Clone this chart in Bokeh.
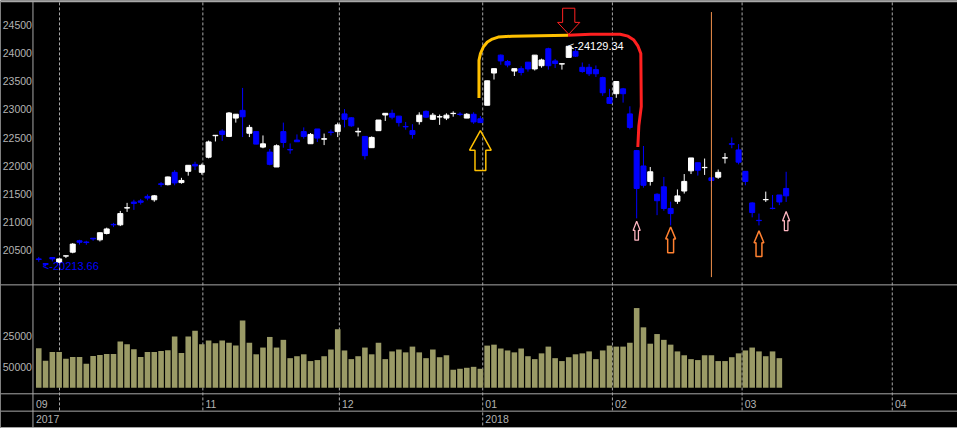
from bokeh.plotting import figure
from bokeh.models import Range1d, LinearAxis, FixedTicker, Span, ColumnDataSource
from bokeh.core.properties import value
from bokeh.embed import file_html
from bokeh.resources import INLINE

# ---------------- data ----------------
open_ = [20345, 20262, 20370, 20285, 20395, 20465, 20667, 20645, 20712, 20684,
         20797, 20958, 20950, 21248, 21355, 21375, 21455, 21395, 21678, 21663,
         21882, 21700, 21900, 22024, 21882, 22150, 22532, 22615, 22520, 22845,
         22982, 22576, 22605, 22330, 22241, 21977, 22605, 22288, 22455, 22605,
         22390, 22652, 22470, 22598, 22605, 22920, 22850, 22600, 22520, 22320,
         22622, 22900, 22930, 22880, 22697, 22623, 22782, 22965, 22823, 22865,
         22845, 22925, 22915, 22845, 22913, 22833, 23073, 23645, 23963, 23850,
         23680, 23723, 23838, 23718, 23775, 24077, 23860, 23805, 23923, 24030,
         23747, 23747, 23706, 23564, 23210, 23278, 23364, 22920, 22268, 21995,
         21720, 21493, 21625, 21241, 21368, 21550, 21909, 22053, 21965, 21784,
         21796, 22136, 22390, 22280, 21900, 21339, 21030, 21395, 21245, 21480,
         21596]
high = [20380, 20270, 20372, 20350, 20400, 20625, 20684, 20667, 20715, 20815,
        20900, 20985, 21197, 21340, 21395, 21410, 21490, 21480, 21710, 21806,
        21920, 21785, 22007, 22070, 22036, 22446, 22540, 22645, 22953, 22914,
        23381, 22725, 22610, 22537, 22297, 22378, 22765, 22395, 22555, 22680,
        22580, 22652, 22570, 22640, 22765, 23005, 22862, 22675, 22520, 22520,
        22811, 22932, 22995, 22880, 22777, 22737, 22948, 22980, 22936, 22908,
        22930, 22965, 22950, 22935, 22948, 22880, 23510, 23723, 23975, 23877,
        23723, 23765, 23840, 23963, 23900, 24095, 23895, 23812, 24129.34, 24077,
        23832, 23808, 23780, 23580, 23364, 23495, 23381, 23055, 22280, 22350,
        21977, 21510, 21800, 21361, 21578, 21852, 22138, 22053, 22127, 21784,
        21932, 22224, 22500, 22383, 21900, 21350, 21150, 21540, 21480, 21480,
        21892]
low = [20295, 20213.66, 20300, 20280, 20360, 20445, 20600, 20595, 20667, 20655,
       20780, 20910, 20928, 21180, 21215, 21310, 21385, 21360, 21625, 21650,
       21652, 21680, 21823, 21922, 21841, 22130, 22430, 22440, 22508, 22765,
       22508, 22508, 22380, 22310, 22007, 21977, 22320, 22212, 22425, 22480,
       22390, 22420, 22366, 22537, 22508, 22680, 22690, 22520, 22110, 22320,
       22622, 22794, 22823, 22696, 22640, 22480, 22730, 22850, 22811, 22725,
       22810, 22870, 22880, 22845, 22743, 22765, 23073, 23530, 23792, 23747,
       23593, 23603, 23670, 23690, 23740, 23706, 23735, 23706, 23923, 23930,
       23650, 23593, 23575, 23240, 23097, 23205, 23120, 22645, 21065, 21610,
       21647, 21122, 21200, 20940, 21322, 21505, 21852, 21824, 21836, 21624,
       21767, 22040, 22310, 22024, 21652, 21083, 20940, 21357, 21225, 21300,
       21356]
close = [20335, 20248, 20345, 20345, 20400, 20608, 20640, 20635, 20700, 20810,
         20877, 20950, 21150, 21255, 21330, 21350, 21425, 21465, 21668, 21800,
         21694, 21738, 22007, 21995, 22007, 22422, 22540, 22555, 22936, 22914,
         22868, 22680, 22383, 22388, 22024, 22354, 22412, 22280, 22425, 22520,
         22555, 22490, 22480, 22590, 22725, 22823, 22708, 22610, 22178, 22502,
         22811, 22930, 22862, 22765, 22690, 22555, 22897, 22862, 22897, 22870,
         22897, 22930, 22910, 22913, 22777, 22765, 23507, 23723, 23860, 23787,
         23723, 23655, 23718, 23963, 23877, 23775, 23815, 23810, 24120, 23945,
         23672, 23632, 23632, 23295, 23107, 23495, 23278, 22680, 21596, 21652,
         21892, 21378, 21240, 21150, 21464, 21721, 22138, 21920, 21970, 21738,
         21882, 22141, 22380, 22063, 21721, 21168, 21025, 21400, 21240, 21356,
         21465]
volume = [95300, 65100, 86000, 86000, 69800, 74400, 74400, 58100, 76700, 79100,
          81400, 81400, 111600, 104600, 93000, 74400, 86000, 86000, 88400, 90700,
          123300, 83700, 123300, 137200, 104600, 114000, 107000, 114000, 108500, 101600,
          162000, 108500, 80600, 96900, 122500, 96900, 115500, 71300, 76000, 80600,
          64300, 66700, 76000, 92200, 141100, 89900, 69000, 76000, 96900, 80600,
          108500, 69000, 87600, 92200, 85300, 99200, 85300, 71300, 92200, 73600,
          78300, 43400, 45700, 48100, 50400, 45700, 101600, 103900, 94600, 89900,
          85300, 94600, 76000, 69000, 82900, 99200, 71300, 64300, 73600, 80600,
          82900, 87600, 69000, 89900, 101600, 99200, 99200, 108500, 192200, 145700,
          106200, 129500, 115500, 103900, 87600, 78300, 69000, 66700, 78300, 78300,
          64300, 64300, 73600, 82900, 89900, 96900, 87600, 76000, 87600, 71300]

price_ticks = [20500, 21000, 21500, 22000, 22500, 23000, 23500, 24000, 24500]
volume_ticks = [50000, 125000]
volume_tick_labels = {50000: "50000", 125000: "25000"}

# first trading-day index of each month (Oct .. Apr) and its label
month_start = [4, 25, 45, 66, 85, 104, 126]
month_label = ["", "11", "12", "01", "02", "03", "04"]
first_month_label = "09"
year_start = [66]
year_label = ["2018"]
first_year_label = "2017"

# marked points
high_idx, high_val = 78, 24129.34
low_idx, low_val = 1, 20213.66
small_up_idx = [88, 110]
small_up_tip = [21014, 21185]
mid_up_idx = [93, 106]
mid_up_tip = [20911, 20843]
big_up_idx, big_up_tip = 65, 22623
down_idx, down_tip = 78, 24334
vline_idx, vline_top, vline_bottom = 99, 24728, 20022
gold_arc_x = [64.79, 64.79, 65.01, 65.45, 66.03, 66.75, 67.62, 69.65, 77.90]
gold_arc_p = [23204, 23872, 23992, 24112, 24197, 24248, 24283, 24300, 24317]
red_arc_x = [77.90, 81.23, 85.57, 86.73, 87.59, 88.17, 88.61, 88.68, 88.32, 88.17]
red_arc_p = [24317, 24334, 24334, 24300, 24231, 24129, 23992, 23050, 22708, 22332]

# ---------------- styling / layout ----------------
FONT = "Liberation Sans"
GRAY = "#b4b4b4"
LINE = "#a8a8a8"
UP = "#ffffff"
DOWN = "#0000ff"
VOLC = "#9a9a66"
BAR_PX = 6.908        # px per bar in the reference layout
PRICE_PER_PX = 17.114  # price units per px
AXIS_X = -0.854

p = figure(width=957, height=428, x_range=Range1d(-5.631, 135.22),
           y_range=Range1d(444, 0), x_axis_type=None, y_axis_type=None,
           toolbar_location=None, output_backend="svg", min_border=0,
           background_fill_color="black", border_fill_color="black",
           outline_line_color=None)
p.extra_y_ranges = {"price": Range1d(17334, 24933),
                    "vol": Range1d(-98372, 934186)}

# frame lines
for yy, w in [(0.8, 2), (295, 1), (408, 1), (426, 1), (443, 1)]:
    p.add_layout(Span(location=yy, dimension="width", line_color=LINE, line_width=w))
p.add_layout(Span(location=AXIS_X, dimension="height", line_color=LINE, line_width=1))

# month gridlines
gx = [1.00464 * m - 0.9646 for m in month_start]
gy1 = [443 if m in year_start else 426 for m in month_start]
p.segment(x0=gx, y0=[2] * len(gx), x1=gx, y1=gy1, line_color=LINE,
          line_width=1, line_dash="3 2")

# month / year labels
mx = [AXIS_X + 3.0 / BAR_PX] + [g + 2.7 / BAR_PX for g, t in zip(gx, month_label) if t]
mt = [first_month_label] + [t for t in month_label if t]
p.text(x=mx, y=[419] * len(mx), text=mt, text_font=value(FONT), text_font_size="10.5px",
       text_color=GRAY, text_baseline="middle", text_align="left")
yx = [AXIS_X + 3.0 / BAR_PX] + [gx[month_start.index(s)] + 2.7 / BAR_PX for s in year_start]
yt = [first_year_label] + year_label
p.text(x=yx, y=[434.5] * len(yx), text=yt, text_font=value(FONT), text_font_size="10.5px",
       text_color=GRAY, text_baseline="middle", text_align="left")

# volume
vx = list(range(len(volume)))
p.vbar(x=vx, top=volume, bottom=0, width=0.82, fill_color=VOLC, line_color=None,
       y_range_name="vol")

# candles
n = len(open_)
colors = [UP if c >= o else DOWN for o, c in zip(open_, close)]
src = ColumnDataSource(dict(x=list(range(n)), h=high, l=low,
                            top=[max(o, c) for o, c in zip(open_, close)],
                            bottom=[min(o, c) for o, c in zip(open_, close)],
                            color=colors))
p.segment(x0="x", y0="l", x1="x", y1="h", line_color="color", line_width=1,
          source=src, y_range_name="price")
p.vbar(x="x", top="top", bottom="bottom", width=0.74, fill_color="color",
       line_color="color", line_width=1, source=src, y_range_name="price")

# axes
ay = LinearAxis(y_range_name="price", fixed_location=AXIS_X,
                ticker=FixedTicker(ticks=price_ticks))
av = LinearAxis(y_range_name="vol", fixed_location=AXIS_X,
                ticker=FixedTicker(ticks=volume_ticks),
                major_label_overrides=volume_tick_labels)
for ax in (ay, av):
    ax.axis_line_color = None
    ax.major_tick_line_color = None
    ax.minor_tick_line_color = None
    ax.major_tick_out = 0
    ax.major_tick_in = 0
    ax.major_label_standoff = 1
    ax.major_label_text_color = GRAY
    ax.major_label_text_font = FONT
    ax.major_label_text_font_size = "10.5px"
    p.add_layout(ax, "left")

# annotations: arc
p.line(gold_arc_x, gold_arc_p, line_color="#ffc000", line_width=3,
       line_join="round", y_range_name="price")
p.line(red_arc_x, red_arc_p, line_color="#ff2020", line_width=3,
       line_join="round", y_range_name="price")

# vertical marker line
p.segment(x0=[vline_idx], y0=[vline_bottom], x1=[vline_idx], y1=[vline_top],
          line_color="#f0904c", line_width=1, y_range_name="price")


def arrow(i, tip, hw, hh, sw, length, direction):
    s = -1 if direction == "up" else 1
    dx = [0, hw, sw, sw, -sw, -sw, -hw]
    dy = [0, hh, hh, length, length, hh, hh]
    return ([i + d / BAR_PX for d in dx], [tip + s * d * PRICE_PER_PX for d in dy])


axs, ays, acol, aw = [], [], [], []
for i, t in zip(small_up_idx, small_up_tip):
    a, b = arrow(i, t, 3.6, 9.5, 1.8, 19.7, "up")
    axs.append(a); ays.append(b); acol.append("#ffb6c1"); aw.append(1.3)
for i, t in zip(mid_up_idx, mid_up_tip):
    a, b = arrow(i, t, 5.0, 12.3, 3.0, 26.7, "up")
    axs.append(a); ays.append(b); acol.append("#ff8030"); aw.append(1.5)
a, b = arrow(big_up_idx, big_up_tip, 11.0, 20.3, 5.5, 41.3, "up")
axs.append(a); ays.append(b); acol.append("#ffc000"); aw.append(1.5)
a, b = arrow(down_idx, down_tip, 11.3, 12.3, 6.2, 27.0, "down")
axs.append(a); ays.append(b); acol.append("#ff2020"); aw.append(1.0)
p.patches(xs=axs, ys=ays, fill_color=None, line_color=acol, line_width=aw,
          y_range_name="price")

# high / low labels
p.text(x=[high_idx - 0.15], y=[high_val], text=["<-%.2f" % high_val],
       text_font=value(FONT), text_font_size="11px", text_color="#ffffff",
       text_baseline="middle", text_align="left", y_range_name="price")
p.text(x=[low_idx - 0.4], y=[low_val], text=["<-%.2f" % low_val],
       text_font=value(FONT), text_font_size="11px", text_color="#0000ff",
       text_baseline="middle", text_align="left", y_range_name="price")

open("out.html", "w").write(file_html(p, INLINE))
